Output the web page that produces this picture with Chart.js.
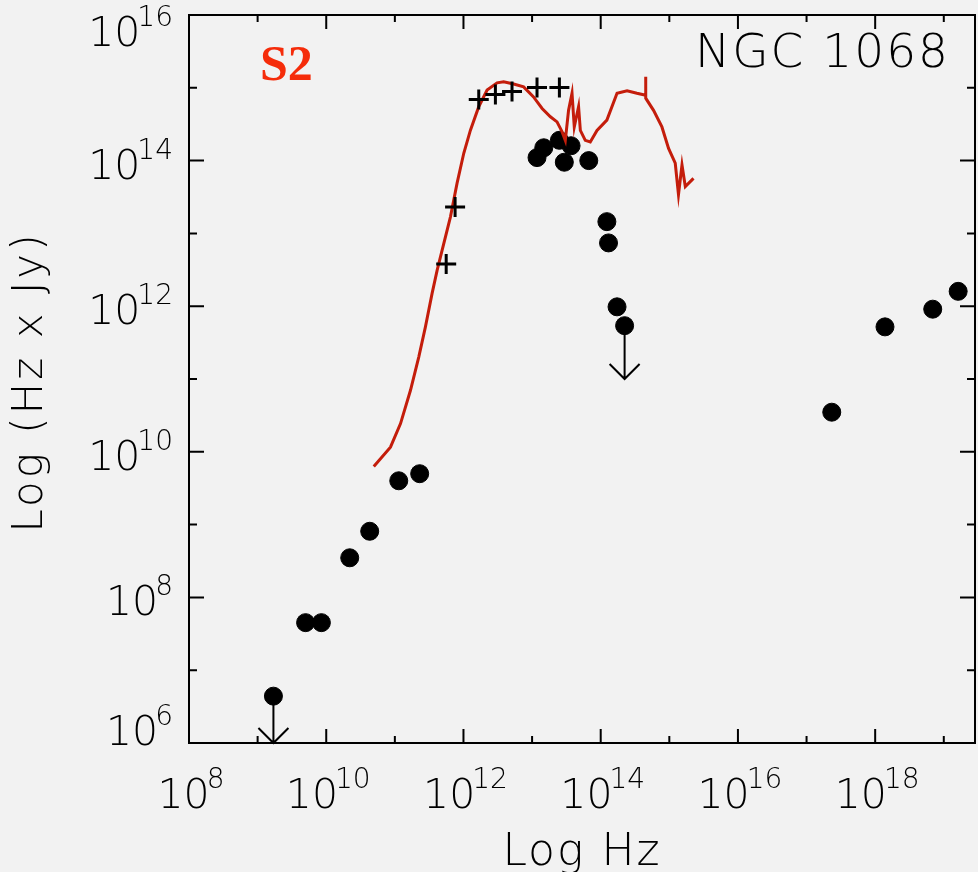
<!DOCTYPE html>
<html>
<head>
<meta charset="utf-8">
<title>NGC 1068</title>
<script src="https://cdn.jsdelivr.net/npm/chart.js@4.4.1/dist/chart.umd.min.js"></script>
<style>
  html, body { margin: 0; padding: 0; background: #f2f2f2; }
  #wrap { width: 978px; height: 872px; position: relative; }
</style>
</head>
<body>
<div id="wrap"><canvas id="sed"></canvas></div>
<script>
// photometry, frequency in Hz and nu*F_nu in Hz x Jy
var photFreq = [5.0e9, 8.5e9, 2.2e10, 4.3e10, 1.14e11, 2.3e11, 1.18e13, 1.48e13, 2.5e13, 3.7e13,
                2.95e13, 6.7e13, 1.23e14, 1.3e14, 1.73e14, 2.33e17, 1.39e18, 6.9e18, 1.62e19];
var photFlux = [4.5e7, 4.5e7, 3.5e8, 8.1e8, 4.0e9, 5.0e9, 1.1e14, 1.5e14, 1.9e14, 1.6e14,
                9.5e13, 1.0e14, 1.45e13, 7.4e12, 9.8e11, 3.5e10, 5.2e11, 9.1e11, 1.6e12];

// upper limits (arrow drawn down to limTo)
var limFreq = [1.7e9, 2.23e14];
var limFlux = [4.4e6, 5.4e11];
var limTo = [1.0e6, 1.0e11];

// far/mid-IR points (crosses)
var irFreq = [5.6e11, 7.55e11, 1.67e12, 2.92e12, 5.1e12, 1.18e13, 2.5e13];
var irFlux = [3.8e12, 2.3e13, 6.9e14, 8.1e14, 8.9e14, 1.01e15, 1.01e15];

// model spectrum
var specFreq = [4.93e10, 8.63e10, 1.21e11, 1.69e11, 2.23e11, 2.79e11, 3.49e11, 4.13e11, 4.89e11, 6.46e11,
                8.07e11, 1.01e12, 1.26e12, 1.67e12, 2.21e12, 3.09e12, 3.85e12, 5.38e12, 7.53e12, 1.05e13,
                1.40e13, 1.85e13, 2.31e13, 2.73e13, 3.05e13, 3.40e13, 3.82e13, 4.12e13, 4.76e13, 5.05e13,
                5.96e13, 7.05e13, 8.83e13, 1.23e14, 1.73e14, 2.42e14, 3.37e14, 4.53e14, 4.53e14, 4.53e14,
                5.89e14, 7.80e14, 9.75e14, 1.22e15, 1.36e15, 1.53e15, 1.71e15, 2.25e15];
var specFlux = [6.3e9, 1.16e10, 2.44e10, 7.0e10, 2.0e11, 5.2e11, 1.5e12, 3.1e12, 5.9e12, 1.69e13,
                4.9e13, 1.26e14, 2.6e14, 5.5e14, 9.3e14, 1.17e15, 1.21e15, 1.13e15, 1.03e15, 7.5e14,
                5.2e14, 4.0e14, 3.4e14, 2.5e14, 1.9e14, 4.9e14, 8.4e14, 2.9e14, 5.5e14, 2.6e14,
                1.9e14, 1.8e14, 2.6e14, 3.6e14, 8.4e14, 9.1e14, 8.4e14, 7.9e14, 1.42e15, 7.2e14,
                4.9e14, 2.9e14, 1.47e14, 9.2e13, 3.4e13, 8.7e13, 4.4e13, 5.7e13];

// axis decades; labels on the even ones
var xTickExp = [8, 9, 10, 11, 12, 13, 14, 15, 16, 17, 18, 19];
var yTickExp = [6, 7, 8, 9, 10, 11, 12, 13, 14, 15, 16];
var xLabelExp = [8, 10, 12, 14, 16, 18];
var yLabelExp = [6, 8, 10, 12, 14, 16];

function pts(xs, ys) {
  return xs.map(function (x, i) { return { x: x, y: ys[i] }; });
}

var FONT = '"DejaVu Sans", sans-serif';
var W = '200 ';

// "10" with a raised exponent
function drawPow(ctx, e, x, y, align) {
  ctx.font = W + '41px ' + FONT;
  var wb = ctx.measureText('10').width;
  ctx.font = W + '28px ' + FONT;
  var we = ctx.measureText(String(e)).width;
  var w = wb + we - 3;
  var x0 = align === 'right' ? x - w : x - w / 2;
  ctx.textAlign = 'left';
  ctx.textBaseline = 'alphabetic';
  ctx.font = W + '41px ' + FONT;
  ctx.fillText('10', x0, y);
  ctx.font = W + '28px ' + FONT;
  ctx.fillText(String(e), x0 + wb - 3, y - 20);
}

var sedAxes = {
  id: 'sedAxes',
  afterDatasetsDraw: function (chart) {
    var ctx = chart.ctx, a = chart.chartArea;
    var xs = chart.scales.x, ys = chart.scales.y;
    ctx.save();
    ctx.strokeStyle = '#000';
    ctx.fillStyle = '#000';
    ctx.lineWidth = 2;

    // upper limit arrows
    limFreq.forEach(function (f, i) {
      var px = xs.getPixelForValue(f);
      var p0 = ys.getPixelForValue(limFlux[i]);
      var p1 = ys.getPixelForValue(limTo[i]);
      ctx.beginPath();
      ctx.moveTo(px, p0);
      ctx.lineTo(px, p1);
      ctx.moveTo(px - 15, p1 - 15);
      ctx.lineTo(px, p1);
      ctx.lineTo(px + 15, p1 - 15);
      ctx.stroke();
    });

    // frame
    ctx.strokeRect(a.left, a.top, a.right - a.left, a.bottom - a.top);

    // inward ticks on all four sides
    ctx.beginPath();
    xTickExp.forEach(function (e) {
      var px = xs.getPixelForValue(Math.pow(10, e));
      var len = e % 2 === 0 ? 14 : 7;
      ctx.moveTo(px, a.bottom); ctx.lineTo(px, a.bottom - len);
      ctx.moveTo(px, a.top); ctx.lineTo(px, a.top + len);
    });
    yTickExp.forEach(function (e) {
      var py = ys.getPixelForValue(Math.pow(10, e));
      var len = e % 2 === 0 ? 15 : 8;
      ctx.moveTo(a.left, py); ctx.lineTo(a.left + len, py);
      ctx.moveTo(a.right, py); ctx.lineTo(a.right - len, py);
    });
    ctx.stroke();

    // tick labels
    xLabelExp.forEach(function (e) {
      drawPow(ctx, e, xs.getPixelForValue(Math.pow(10, e)) + 2, a.bottom + 65, 'center');
    });
    yLabelExp.forEach(function (e) {
      var py = ys.getPixelForValue(Math.pow(10, e)) + 18;
      py = Math.min(Math.max(py, a.top + 31), a.bottom + 2);
      drawPow(ctx, e, a.left - 16, py, 'right');
    });

    // axis titles
    ctx.font = W + '44px ' + FONT;
    ctx.letterSpacing = '2px';
    ctx.textAlign = 'center';
    ctx.fillText('Log Hz', (a.left + a.right) / 2, 865);
    ctx.save();
    ctx.translate(42, (a.top + a.bottom) / 2 + 3);
    ctx.rotate(-Math.PI / 2);
    ctx.font = W + '42px ' + FONT;
    ctx.letterSpacing = '3px';
    ctx.fillText('Log (Hz x Jy)', 0, 0);
    ctx.restore();

    // object name and class
    ctx.textAlign = 'left';
    ctx.font = W + '47px ' + FONT;
    ctx.letterSpacing = '2px';
    ctx.fillText('NGC 1068', 695, 67);
    ctx.letterSpacing = '0px';
    ctx.font = 'bold 50px "Liberation Serif", "Times New Roman", serif';
    ctx.fillStyle = '#f52c0a';
    ctx.fillText('S2', 260, 80);
    ctx.restore();
  }
};

new Chart(document.getElementById('sed'), {
  type: 'scatter',
  data: {
    datasets: [{
      label: 'IR',
      data: pts(irFreq, irFlux),
      pointStyle: 'cross',
      pointRadius: 10,
      borderColor: '#000',
      borderWidth: 3,
      order: 0
    }, {
      label: 'model',
      data: pts(specFreq, specFlux),
      showLine: true,
      pointRadius: 0,
      borderColor: '#c41d0b',
      borderWidth: 3,
      tension: 0,
      order: 1
    }, {
      label: 'photometry',
      data: pts(photFreq, photFlux),
      pointStyle: 'circle',
      pointRadius: 9,
      backgroundColor: '#000',
      borderColor: '#000',
      borderWidth: 1,
      order: 2
    }, {
      label: 'limits',
      data: pts(limFreq, limFlux),
      pointStyle: 'circle',
      pointRadius: 9,
      backgroundColor: '#000',
      borderColor: '#000',
      borderWidth: 1,
      order: 2
    }]
  },
  options: {
    responsive: true,
    maintainAspectRatio: false,
    animation: false,
    layout: { autoPadding: false, padding: { left: 189, top: 15, right: 3, bottom: 129 } },
    plugins: {
      legend: { display: false },
      tooltip: { enabled: false }
    },
    scales: {
      x: { type: 'logarithmic', min: 1e8, max: 2.85e19, display: false },
      y: { type: 'logarithmic', min: 1e6, max: 1e16, display: false }
    }
  },
  plugins: [sedAxes]
});
</script>
</body>
</html>
